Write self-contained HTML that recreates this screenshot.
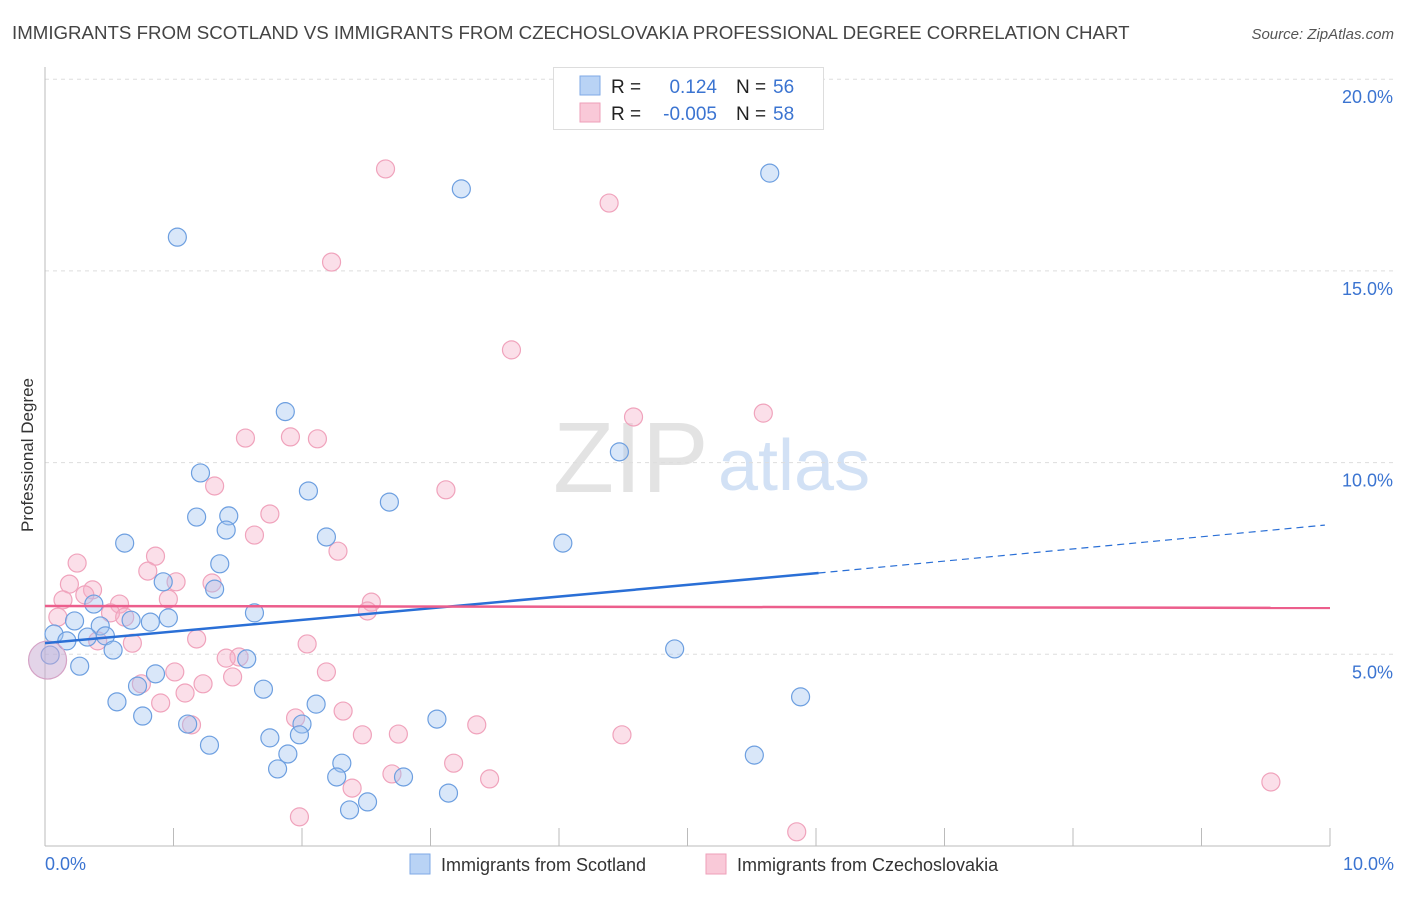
<!DOCTYPE html>
<html><head><meta charset="utf-8"><style>
body{margin:0;background:#fff;font-family:"Liberation Sans",sans-serif;}
svg text{font-family:"Liberation Sans",sans-serif;}
</style></head><body>
<svg id="chart" width="1406" height="892" xmlns="http://www.w3.org/2000/svg">
<text x="12" y="39" font-size="18.7" fill="#444">IMMIGRANTS FROM SCOTLAND VS IMMIGRANTS FROM CZECHOSLOVAKIA PROFESSIONAL DEGREE CORRELATION CHART</text>
<text x="1394" y="39" font-size="15" fill="#555" font-style="italic" text-anchor="end">Source: ZipAtlas.com</text>
<text x="553" y="492" font-size="100" fill="#ddd" font-family="Liberation Serif" opacity="0.8">ZIP</text>
<text x="718" y="490" font-size="72" fill="#c8daf3" opacity="0.8">atlas</text>
<text transform="translate(33,455) rotate(-90)" font-size="17" fill="#333" text-anchor="middle">Professional Degree</text>
<g id="grid"></g><g id="pts"></g><g id="trend"></g>
<g>
<rect x="553.5" y="67.5" width="270" height="62" fill="#fff" stroke="#ddd"/>
<rect x="580" y="76" width="20" height="19" fill="#b9d3f5" stroke="#7fa9e6"/>
<rect x="580" y="103" width="20" height="19" fill="#f9c9d8" stroke="#ee9fb9"/>
<text x="611" y="93" font-size="19" fill="#222">R =</text>
<text x="717" y="93" font-size="19" fill="#3b74d1" text-anchor="end">0.124</text>
<text x="736" y="93" font-size="19" fill="#222">N =</text><text x="773" y="93" font-size="19" fill="#3b74d1">56</text>
<text x="611" y="120" font-size="19" fill="#222">R =</text>
<text x="717" y="120" font-size="19" fill="#3b74d1" text-anchor="end">-0.005</text>
<text x="736" y="120" font-size="19" fill="#222">N =</text><text x="773" y="120" font-size="19" fill="#3b74d1">58</text>
</g>
<g>
<rect x="410" y="854" width="20" height="20" fill="#b9d3f5" stroke="#7fa9e6"/>
<text x="441" y="871" font-size="18" fill="#333">Immigrants from Scotland</text>
<rect x="706" y="854" width="20" height="20" fill="#f9c9d8" stroke="#ee9fb9"/>
<text x="737" y="871" font-size="18" fill="#333">Immigrants from Czechoslovakia</text>
</g>
</svg>
<script>
const yTicks=[5,10,15,20];
const yTickLabels=["5.0%","10.0%","15.0%","20.0%"];
const xTicks=[0,1,2,3,4,5,6,7,8,9,10];
const blueX=[1.03,3.24,5.64,1.87,4.47,1.21,2.05,2.68,1.18,1.43,1.41,2.19,0.62,4.03,1.36,0.92,1.32,0.38,1.63,0.96,0.82,0.67,0.23,0.43,0.07,0.33,0.17,0.47,0.53,1.57,0.27,0.86,4.90,0.72,1.70,5.88,0.56,0.76,2.11,1.11,2.00,3.05,1.98,1.28,1.75,5.52,1.89,2.31,1.81,2.27,2.79,3.14,2.51,2.37,0.04];
const blueY=[15.88,17.14,17.55,11.33,10.28,9.73,9.26,8.97,8.58,8.61,8.24,8.06,7.90,7.90,7.36,6.89,6.70,6.31,6.08,5.95,5.84,5.89,5.87,5.74,5.53,5.45,5.35,5.48,5.11,4.88,4.69,4.49,5.14,4.17,4.09,3.89,3.76,3.39,3.70,3.18,3.18,3.31,2.90,2.63,2.82,2.37,2.40,2.16,2.01,1.80,1.80,1.38,1.15,0.94,4.98];
const pinkX=[2.65,4.39,2.23,3.63,4.58,5.59,1.56,1.91,2.12,1.32,3.12,1.75,1.63,2.28,0.25,0.86,0.80,1.02,1.30,0.19,0.37,0.31,0.96,0.14,0.58,2.54,2.51,0.51,0.62,0.10,1.18,2.04,0.41,0.68,1.51,1.41,1.01,2.19,1.46,1.23,0.75,1.09,0.90,1.95,2.32,1.14,3.36,2.47,2.75,4.49,3.18,2.70,2.39,3.46,9.54,1.98,5.85];
const pinkY=[17.66,16.77,15.23,12.94,11.19,11.29,10.64,10.67,10.62,9.39,9.29,8.66,8.11,7.69,7.38,7.56,7.17,6.89,6.86,6.83,6.68,6.55,6.44,6.42,6.31,6.36,6.13,6.08,5.97,5.97,5.40,5.27,5.35,5.29,4.93,4.90,4.54,4.54,4.41,4.23,4.23,3.99,3.73,3.34,3.52,3.16,3.16,2.90,2.92,2.90,2.16,1.88,1.51,1.75,1.67,0.76,0.37];
const blueTrend=[5.29,7.12,8.37];
const blueTrendX=[0,6.02,9.96];
const pinkTrend=[6.26,6.21];
const NS="http://www.w3.org/2000/svg";
const sx=v=>45+v*128.5, sy=v=>846-v*38.34;
function mk(t,a,p){const e=document.createElementNS(NS,t);for(const k in a)e.setAttribute(k,a[k]);document.getElementById(p).appendChild(e);return e;}
yTicks.forEach((t,i)=>{
 const g=mk('line',{x1:45,x2:1395,y1:sy(t),y2:sy(t),stroke:'#ddd','stroke-dasharray':'4,4'},'grid');
 
 
 const l=mk('text',{x:1393,y:sy(t)+24,'font-size':18,fill:'#3b74d1','text-anchor':'end'},'grid');l.textContent=yTickLabels[i];
 
 
});
const yAxisLine=mk('line',{x1:45,x2:45,y1:67,y2:846,stroke:'#bbb'},'grid');


const xAxisLine=mk('line',{x1:45,x2:1330,y1:846,y2:846,stroke:'#bbb'},'grid');


xTicks.forEach(t=>{const e=mk('line',{x1:sx(t),x2:sx(t),y1:828,y2:846,stroke:'#bbb'},'grid');
 
 });
const xl0=mk('text',{x:45,y:870,'font-size':18,fill:'#3b74d1'},'grid');xl0.textContent='0.0%';


const xl1=mk('text',{x:1394,y:870,'font-size':18,fill:'#3b74d1','text-anchor':'end'},'grid');xl1.textContent='10.0%';


pinkX.forEach((x,i)=>{const c=mk('circle',{cx:sx(x),cy:sy(pinkY[i]),r:9,fill:'rgba(246,176,199,0.4)',stroke:'#f0a3bc','stroke-width':1.2},'pts');
 
 });
blueX.forEach((x,i)=>{const c=mk('circle',{cx:sx(x),cy:sy(blueY[i]),r:9,fill:'rgba(160,196,240,0.4)',stroke:'#6d9fe0','stroke-width':1.2},'pts');
 
 });
const big=mk('circle',{cx:sx(0.02),cy:sy(4.85),r:19,fill:'rgba(200,170,210,0.5)',stroke:'#d5a3c6','stroke-width':1.2},'pts');


const bt=mk('line',{x1:sx(blueTrendX[0]),y1:sy(blueTrend[0]),x2:sx(blueTrendX[1]),y2:sy(blueTrend[1]),stroke:'#2a6fd6','stroke-width':2.5},'trend');


const bd=mk('line',{x1:sx(blueTrendX[1]),y1:sy(blueTrend[1]),x2:sx(blueTrendX[2]),y2:sy(blueTrend[2]),stroke:'#2a6fd6','stroke-width':1.2,'stroke-dasharray':'7,5'},'trend');


const pt=mk('line',{x1:sx(0),y1:sy(pinkTrend[0]),x2:sx(10),y2:sy(pinkTrend[1]),stroke:'#ec5e8c','stroke-width':2.5},'trend');


</script>
</body></html>
